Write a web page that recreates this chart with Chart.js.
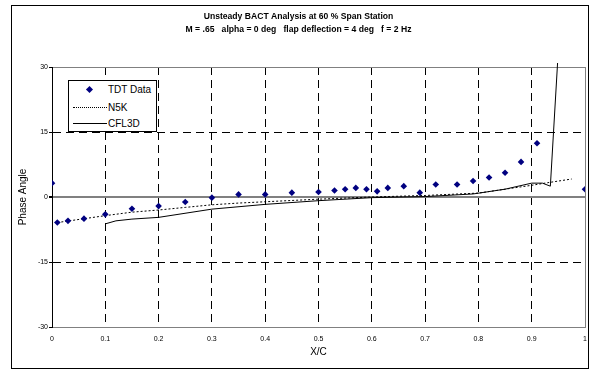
<!DOCTYPE html>
<html lang="en">
<head>
  <meta charset="UTF-8">
  <title>Unsteady BACT Analysis at 60 % Span Station</title>
  <script src="https://cdn.jsdelivr.net/npm/chart.js"></script>
  <style>
    body {
      margin: 0;
      background: #fff;
      font-family: 'Liberation Sans', Arial, sans-serif;
    }
    .wrap {
      position: relative;
      width: 591px;
      height: 371px;
    }
    .frame {
      position: absolute;
      left: 11px;
      top: 5px;
      width: 578px;
      height: 364px;
      border: 1.5px solid #000;
      box-sizing: border-box;
    }
    canvas {
      position: absolute;
      left: 0;
      top: 0;
    }
    .legend {
      position: absolute;
      left: 68px;
      top: 80px;
      width: 89px;
      height: 52px;
      border: 1px solid #000;
      background: #fff;
      box-sizing: border-box;
      font-size: 10px;
      color: #000;
    }
    .legend .item {
      position: absolute;
      left: 0;
      height: 12px;
      line-height: 12px;
      width: 100%;
    }
    .legend .txt {
      position: absolute;
      left: 39px;
      top: 0;
    }
    .legend .diamond {
      position: absolute;
      left: 18px;
      top: 3px;
      width: 5px;
      height: 5px;
      background: #000080;
      transform: rotate(45deg);
    }
    .legend .line {
      position: absolute;
      left: 4px;
      top: 5px;
      width: 34px;
      border-top: 1px solid #000;
    }
    .legend .line.dotted {
      border-top-style: dotted;
    }
  </style>
</head>
<body>

<div class="wrap">
  <div class="frame"></div>
  <canvas id="chart" width="591" height="371"></canvas>
  <div class="legend" id="legend"></div>
</div>

<script>
// TDT Data (wind tunnel measurements)
const tdtX = [0, 0.01, 0.03, 0.06, 0.1, 0.15, 0.2, 0.25, 0.3, 0.35, 0.4, 0.45, 0.5, 0.53, 0.55, 0.57,
              0.59, 0.61, 0.63, 0.66, 0.69, 0.72, 0.76, 0.79, 0.82, 0.85, 0.88, 0.91, 1.0];
const tdtY = [3.2, -5.9, -5.5, -5.0, -4.0, -2.7, -2.1, -1.15, -0.15, 0.6, 0.6, 1.0, 1.15, 1.5, 1.8, 2.1,
              1.8, 1.3, 2.1, 2.5, 1.0, 2.9, 2.9, 3.7, 4.5, 5.6, 8.1, 12.4, 1.8];

// N5K
const n5kX = [0.01, 0.1, 0.15, 0.2, 0.25, 0.3, 0.35, 0.4, 0.5, 0.6, 0.7, 0.8, 0.85, 0.9, 0.93, 0.975];
const n5kY = [-5.9, -4.3, -3.5, -3.0, -2.4, -1.8, -1.4, -1.1, -0.5, 0.0, 0.35, 0.9, 1.8, 2.7, 3.3, 4.15];

// CFL3D
const cflX = [0.1, 0.12, 0.15, 0.2, 0.3, 0.4, 0.5, 0.6, 0.7, 0.79, 0.85, 0.9, 0.92, 0.935, 0.95];
const cflY = [-6.2, -5.5, -5.1, -4.7, -2.8, -1.7, -0.85, -0.15, 0.1, 0.7, 1.8, 3.2, 3.2, 2.5, 34];

const seriesNames = ['TDT Data', 'N5K', 'CFL3D'];
const titleLines = [
  'Unsteady BACT Analysis at 60 % Span Station',
  'M = .65   alpha = 0 deg   flap deflection = 4 deg   f = 2 Hz'
];
const xLabel = 'X/C';
const yLabel = 'Phase Angle';

function pts(xs, ys) {
  return xs.map((x, i) => ({ x: x, y: ys[i] }));
}

Chart.defaults.font.family = "'Liberation Sans', Arial, sans-serif";
Chart.defaults.color = '#000';

const dashed = [8, 5];

const chart = new Chart(document.getElementById('chart'), {
  type: 'scatter',
  data: {
    datasets: [
      {
        label: seriesNames[0],
        data: pts(tdtX, tdtY),
        pointStyle: 'rectRot',
        pointRadius: 3.3,
        backgroundColor: '#000080',
        borderColor: '#000080',
        borderWidth: 0,
        showLine: false
      },
      {
        label: seriesNames[1],
        data: pts(n5kX, n5kY),
        showLine: true,
        pointRadius: 0,
        borderColor: '#000',
        borderWidth: 1,
        borderDash: [2, 2]
      },
      {
        label: seriesNames[2],
        data: pts(cflX, cflY),
        showLine: true,
        pointRadius: 0,
        borderColor: '#000',
        borderWidth: 1,
        clip: { left: 0, top: 4, right: 0, bottom: 0 }
      }
    ]
  },
  options: {
    responsive: false,
    animation: false,
    layout: { padding: { left: 12, right: 6, top: 0, bottom: 0 } },
    plugins: {
      legend: { display: false },
      tooltip: { enabled: false },
      title: {
        display: true,
        text: titleLines,
        color: '#000',
        font: { size: 8.6, weight: 'bold', lineHeight: '13px' },
        padding: { top: 10, bottom: 31 }
      }
    },
    scales: {
      x: {
        type: 'linear',
        min: 0,
        max: 1,
        afterFit: s => {
          s.height = 44;
          s.paddingLeft = 0;
          s.paddingRight = 0;
        },
        ticks: {
          stepSize: 0.1,
          font: { size: 7 },
          color: '#000',
          padding: 8,
          maxRotation: 0,
          callback: v => String(Number(v.toFixed(1)))
        },
        grid: {
          drawTicks: false,
          lineWidth: 1,
          color: c => {
            const v = c.tick ? Math.round(c.tick.value * 10) : -1;
            if (v === 0) return 'rgba(0,0,0,0)';
            if (v === 10) return '#808080';
            return '#000';
          }
        },
        border: {
          color: '#808080',
          width: 1,
          dash: c => {
            const v = c.tick ? Math.round(c.tick.value * 10) : -1;
            return (v > 0 && v < 10) ? dashed : [];
          }
        },
        title: {
          display: true,
          text: xLabel,
          color: '#000',
          font: { size: 10 },
          padding: { top: 0, bottom: 13 }
        }
      },
      y: {
        min: -30,
        max: 30,
        afterFit: s => { s.width = 40; },
        ticks: {
          stepSize: 15,
          font: { size: 7 },
          color: '#000',
          padding: 1
        },
        grid: {
          drawTicks: true,
          tickLength: 3,
          tickColor: '#000',
          lineWidth: c => (c.tick && c.tick.value === 0) ? 2 : 1,
          color: c => {
            if (!c.tick) return '#000';
            const v = c.tick.value;
            if (v === 0 || v === 30 || v === -30) return '#808080';
            return '#000';
          }
        },
        border: {
          color: '#000',
          width: 1,
          dash: c => (c.tick && Math.abs(c.tick.value) === 15) ? dashed : []
        },
        title: {
          display: true,
          text: yLabel,
          color: '#000',
          font: { size: 10 },
          padding: { top: 5, bottom: 0 }
        }
      }
    }
  }
});

// legend box built from the dataset labels
const legendEl = document.getElementById('legend');
const rowTops = [3, 21, 37];
chart.data.datasets.forEach((ds, i) => {
  const row = document.createElement('div');
  row.className = 'item';
  row.style.top = rowTops[i] + 'px';
  let sw;
  if (i === 0) {
    sw = '<span class="diamond"></span>';
  } else {
    sw = '<span class="line' + (ds.borderDash ? ' dotted' : '') + '"></span>';
  }
  row.innerHTML = sw + '<span class="txt">' + ds.label + '</span>';
  legendEl.appendChild(row);
});
</script>

</body>
</html>
